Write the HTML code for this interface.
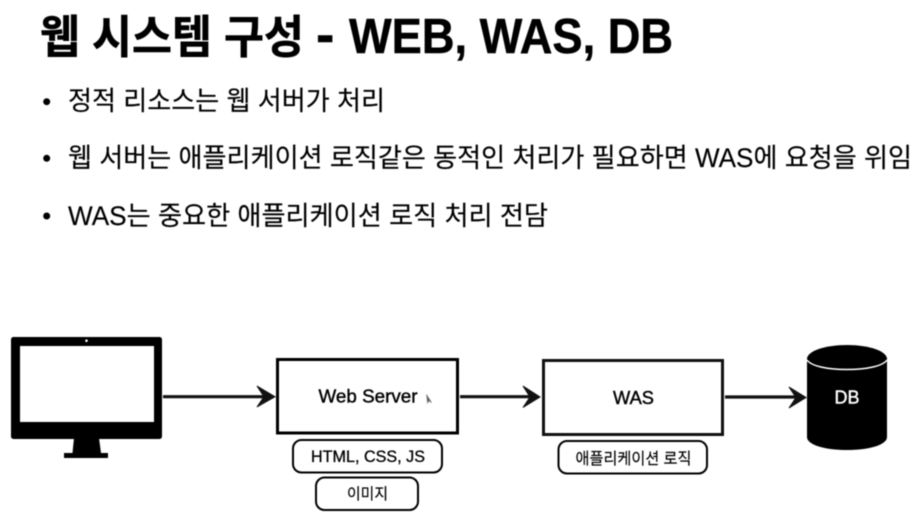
<!DOCTYPE html>
<html lang="ko">
<head>
<meta charset="utf-8">
<style>
html,body{margin:0;padding:0;background:#fff;width:921px;height:523px;overflow:hidden}
svg{display:block;filter:blur(.4px)}
text{font-family:"Liberation Sans","Noto Sans CJK KR",sans-serif;fill:#000}
</style>
</head>
<body>
<svg width="921" height="523" viewBox="0 0 921 523" xmlns="http://www.w3.org/2000/svg">
<rect width="921" height="523" fill="#fff"/>

<text x="40" y="53" font-size="45.500" font-weight="700" textLength="264" lengthAdjust="spacingAndGlyphs" stroke="#000" stroke-width=".5">웹 시스템 구성</text>
<text x="316" y="53" font-size="55" font-weight="700" stroke="#000" stroke-width=".5">-</text>
<text x="349" y="53" font-size="49" font-weight="700" textLength="324" lengthAdjust="spacingAndGlyphs" stroke="#000" stroke-width=".5">WEB, WAS, DB</text>

<circle cx="46.700" cy="101.700" r="3.500"/>
<text x="68" y="110" font-size="26.500" textLength="317" lengthAdjust="spacingAndGlyphs" stroke="#000" stroke-width=".15">정적 리소스는 웹 서버가 처리</text>
<circle cx="46.700" cy="158.300" r="3.500"/>
<text x="68" y="167" font-size="26.500" textLength="844" lengthAdjust="spacingAndGlyphs" stroke="#000" stroke-width=".15">웹 서버는 애플리케이션 로직같은 동적인 처리가 필요하면 WAS에 요청을 위임</text>
<circle cx="46.700" cy="216" r="3.500"/>
<text x="68" y="225" font-size="26.500" textLength="480" lengthAdjust="spacingAndGlyphs" stroke="#000" stroke-width=".15">WAS는 중요한 애플리케이션 로직 처리 전담</text>

<!-- monitor -->
<rect x="11" y="337" width="151" height="102" rx="2.500" fill="#000"/>
<rect x="20" y="346" width="134" height="76" fill="#fff"/>
<circle cx="86.500" cy="340.700" r="1.300" fill="#fff"/>
<path d="M74 438H99L101 453H108V458H64V453H72.500Z" fill="#000"/>

<!-- arrows -->
<g fill="#111" stroke="#111">
<path d="M163 396.700H268" fill="none" stroke-width="3.200"/>
<path d="M257 386L275 396.700L257 407L264 396.700Z" stroke-width="1"/>
<path d="M460 396.700H533" fill="none" stroke-width="3.200"/>
<path d="M523 386L540 397L523 407.500L530 397Z" stroke-width="1"/>
<path d="M725 397H799" fill="none" stroke-width="3.200"/>
<path d="M789 387L806 397.500L789 408L796 397.500Z" stroke-width="1"/>
</g>

<!-- web server -->
<rect x="277.500" y="359.500" width="180" height="73.500" fill="#fff" stroke="#000" stroke-width="3"/>
<text x="318.500" y="402.500" font-size="18" textLength="99" lengthAdjust="spacingAndGlyphs" stroke="#000" stroke-width=".4">Web Server</text>
<path d="M426.500 394.500L427.500 403L429 401L431.500 402.500Z" fill="#555" stroke="#888" stroke-width=".8"/>

<!-- was -->
<rect x="543.500" y="360.500" width="179" height="74" fill="#fff" stroke="#111" stroke-width="3"/>
<text x="613" y="404" font-size="18" textLength="41" lengthAdjust="spacingAndGlyphs" stroke="#000" stroke-width=".4">WAS</text>

<!-- pills -->
<rect x="293" y="440" width="149" height="32.500" rx="8.500" fill="#fff" stroke="#000" stroke-width="2"/>
<text x="311" y="462" font-size="16.500" textLength="114" lengthAdjust="spacingAndGlyphs" stroke="#000" stroke-width=".3">HTML, CSS, JS</text>
<rect x="316" y="477.500" width="102" height="32.500" rx="8.500" fill="#fff" stroke="#000" stroke-width="2"/>
<text x="347" y="499" font-size="15.500" textLength="41" lengthAdjust="spacingAndGlyphs" stroke="#000" stroke-width=".15">이미지</text>
<rect x="558.500" y="441" width="148.500" height="32.500" rx="8.500" fill="#fff" stroke="#000" stroke-width="2"/>
<text x="575.500" y="464" font-size="16" textLength="116" lengthAdjust="spacingAndGlyphs" stroke="#000" stroke-width=".15">애플리케이션 로직</text>

<!-- db -->
<path d="M807 359C807 351 825 345 847 345C869 345 887 351 887 359V437C887 445 869 450 847 450C825 450 807 445 807 437Z" fill="#000"/>
<path d="M807 360C811 366 827 369.500 847 369.500C867 369.500 883 366 887 360" fill="none" stroke="#fff" stroke-width="1.500"/>
<text x="834.500" y="403.500" font-size="18" textLength="25" lengthAdjust="spacingAndGlyphs" stroke="#fff" stroke-width=".4" style="fill:#fff">DB</text>
</svg>
</body>
</html>
